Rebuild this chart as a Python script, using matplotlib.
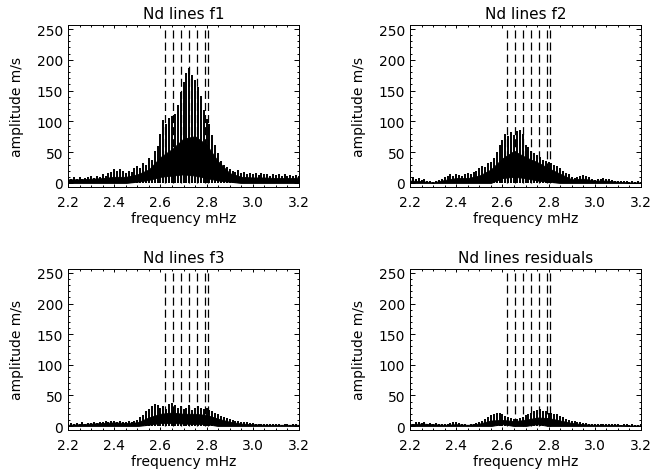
import numpy as np
import matplotlib
matplotlib.use('Agg')
import matplotlib.pyplot as plt
from matplotlib.ticker import MultipleLocator

# spectrum sampled every 0.0125 mHz from 2.2 to 3.2 (81 points)
freq = np.round(2.2 + 0.0125 * np.arange(81), 4)
# coarse grid (0.05 mHz) for the dense black band under the spikes
freq_band = np.round(2.2 + 0.05 * np.arange(21), 3)

# mode frequencies (dashed lines)
modes = [2.621, 2.655, 2.689, 2.723, 2.757, 2.791, 2.806]

titles = ['Nd lines f1', 'Nd lines f2', 'Nd lines f3', 'Nd lines residuals']

peak_f1 = [8, 6, 9, 7, 10, 6, 8, 9,
           11, 8, 12, 10, 14, 11, 16, 18,
           22, 20, 23, 19, 17, 20, 18, 24,
           28, 25, 33, 30, 40, 38, 52, 60,
           80, 102, 96, 106, 108, 112, 126, 148,
           164, 178, 186, 176, 168, 156, 142, 118,
           104, 96, 78, 62, 48, 36, 30, 26,
           22, 20, 18, 21, 16, 18, 15, 17,
           14, 17, 13, 16, 14, 15, 12, 14,
           13, 15, 12, 14, 12, 13, 11, 13, 12]
peak_f2 = [7, 9, 6, 8, 5, 7, 4, 3,
           2, 3, 5, 7, 9, 11, 14, 12,
           15, 13, 11, 14, 16, 15, 18, 20,
           24, 28, 26, 32, 34, 40, 50, 62,
           70, 80, 76, 82, 78, 84, 86, 80,
           62, 58, 52, 48, 46, 42, 38, 36,
           34, 32, 30, 28, 24, 20, 17, 14,
           10, 8, 10, 12, 13, 12, 10, 7,
           5, 6, 7, 8, 7, 6, 5, 4,
           4, 3, 4, 3, 2, 3, 2, 3, 2]
peak_f3 = [4, 5, 3, 5, 4, 6, 4, 5,
           5, 6, 5, 7, 6, 8, 7, 8,
           8, 7, 9, 7, 6, 8, 7, 9,
           10, 14, 18, 24, 28, 32, 36, 34,
           30, 33, 28, 36, 38, 34, 30, 32,
           28, 30, 34, 26, 30, 32, 30, 28,
           30, 26, 24, 22, 20, 17, 15, 13,
           12, 10, 9, 8, 7, 6, 6, 5,
           5, 4, 4, 3, 4, 3, 3, 4,
           3, 3, 2, 3, 3, 2, 3, 3, 2]
peak_res = [5, 4, 6, 7, 5, 6, 4, 5,
            4, 5, 3, 4, 3, 4, 5, 6,
            6, 5, 4, 3, 2, 3, 4, 5,
            7, 9, 12, 15, 18, 20, 22, 21,
            19, 17, 15, 13, 12, 11, 13, 15,
            18, 20, 22, 24, 26, 27, 25, 24,
            22, 21, 20, 19, 17, 15, 12, 10,
            9, 8, 7, 6, 5, 5, 4, 4,
            4, 3, 4, 3, 3, 4, 3, 3,
            3, 2, 3, 3, 2, 3, 2, 2, 3]

band_hi_f1 = [6, 6, 7, 8, 10, 10, 14, 22, 42, 55, 72, 76, 62, 35, 16, 10, 9, 9, 8, 8, 8]
band_lo_f1 = [0, 0, 0, 0, 0, 0, 2, 5, 10, 12, 14, 12, 8, 4, 2, 0, 0, 0, 0, 0, 0]
band_hi_f2 = [4, 3, 1, 5, 8, 8, 12, 22, 40, 52, 42, 34, 24, 15, 6, 7, 4, 4, 2, 1, 1]
band_lo_f2 = [0, 0, 0, 0, 0, 0, 0, 0, 8, 10, 8, 4, 2, 0, 0, 0, 0, 0, 0, 0, 0]
band_hi_f3 = [2, 3, 4, 5, 6, 5, 6, 14, 20, 22, 20, 20, 18, 12, 7, 4, 3, 2, 2, 2, 2]
band_lo_f3 = [0, 0, 0, 0, 0, 0, 0, 2, 5, 5, 4, 3, 3, 0, 0, 0, 0, 0, 0, 0, 0]
band_hi_res = [3, 4, 3, 2, 3, 2, 4, 9, 10, 8, 10, 14, 13, 9, 5, 3, 2, 2, 2, 1, 1]
band_lo_res = [0, 0, 0, 0, 0, 0, 0, 0, 3, 0, 0, 3, 0, 0, 0, 0, 0, 0, 0, 0, 0]

peaks = [peak_f1, peak_f2, peak_f3, peak_res]
bands = [(band_lo_f1, band_hi_f1), (band_lo_f2, band_hi_f2),
         (band_lo_f3, band_hi_f3), (band_lo_res, band_hi_res)]

plt.rcParams['lines.scale_dashes'] = False
plt.rcParams['font.family'] = 'DejaVu Sans'

fig = plt.figure(figsize=(6.72, 4.77), dpi=100)
W, H = 672.0, 477.0
boxes = [(68, 26, 299, 188), (410, 26, 641, 188),
         (68, 270, 299, 431), (410, 270, 641, 431)]

for k in range(4):
    l, t, r, b = boxes[k]
    ax = fig.add_axes([l / W, 1 - b / H, (r - l) / W, (b - t) / H])
    lo, hi = bands[k]
    ax.fill_between(freq_band, lo, hi, color='black', lw=0.6)
    ax.vlines(freq, 0, peaks[k], color='black', lw=1.4)
    ax.vlines(modes, 0, 255, color='black', lw=0.9, linestyles=(0, (5.8, 2.9)))
    ax.set_xlim(2.2, 3.2)
    ax.set_ylim(-6.5, 256.5)
    ax.xaxis.set_major_locator(MultipleLocator(0.2))
    ax.xaxis.set_minor_locator(MultipleLocator(0.05))
    ax.yaxis.set_major_locator(MultipleLocator(50))
    ax.yaxis.set_minor_locator(MultipleLocator(10))
    ax.set_xticks([2.2, 2.4, 2.6, 2.8, 3.0, 3.2])
    ax.set_xticklabels(['2.2', '2.4', '2.6', '2.8', '3.0', '3.2'])
    ax.tick_params(which='both', direction='in', top=True, right=True,
                   width=0.7, labelsize=10)
    ax.tick_params(axis='x', which='major', length=2.4, pad=6)
    ax.tick_params(axis='x', which='minor', length=1.2)
    ax.tick_params(axis='y', which='major', length=3.4, pad=3.5)
    ax.tick_params(axis='y', which='minor', length=1.7)
    for s in ax.spines.values():
        s.set_linewidth(0.7)
    ax.set_title(titles[k], fontsize=11, pad=5)
    ax.set_xlabel('frequency mHz', fontsize=10, labelpad=1)
    ax.set_ylabel('amplitude m/s', fontsize=10, labelpad=9)

fig.savefig('out.png', dpi=100)
